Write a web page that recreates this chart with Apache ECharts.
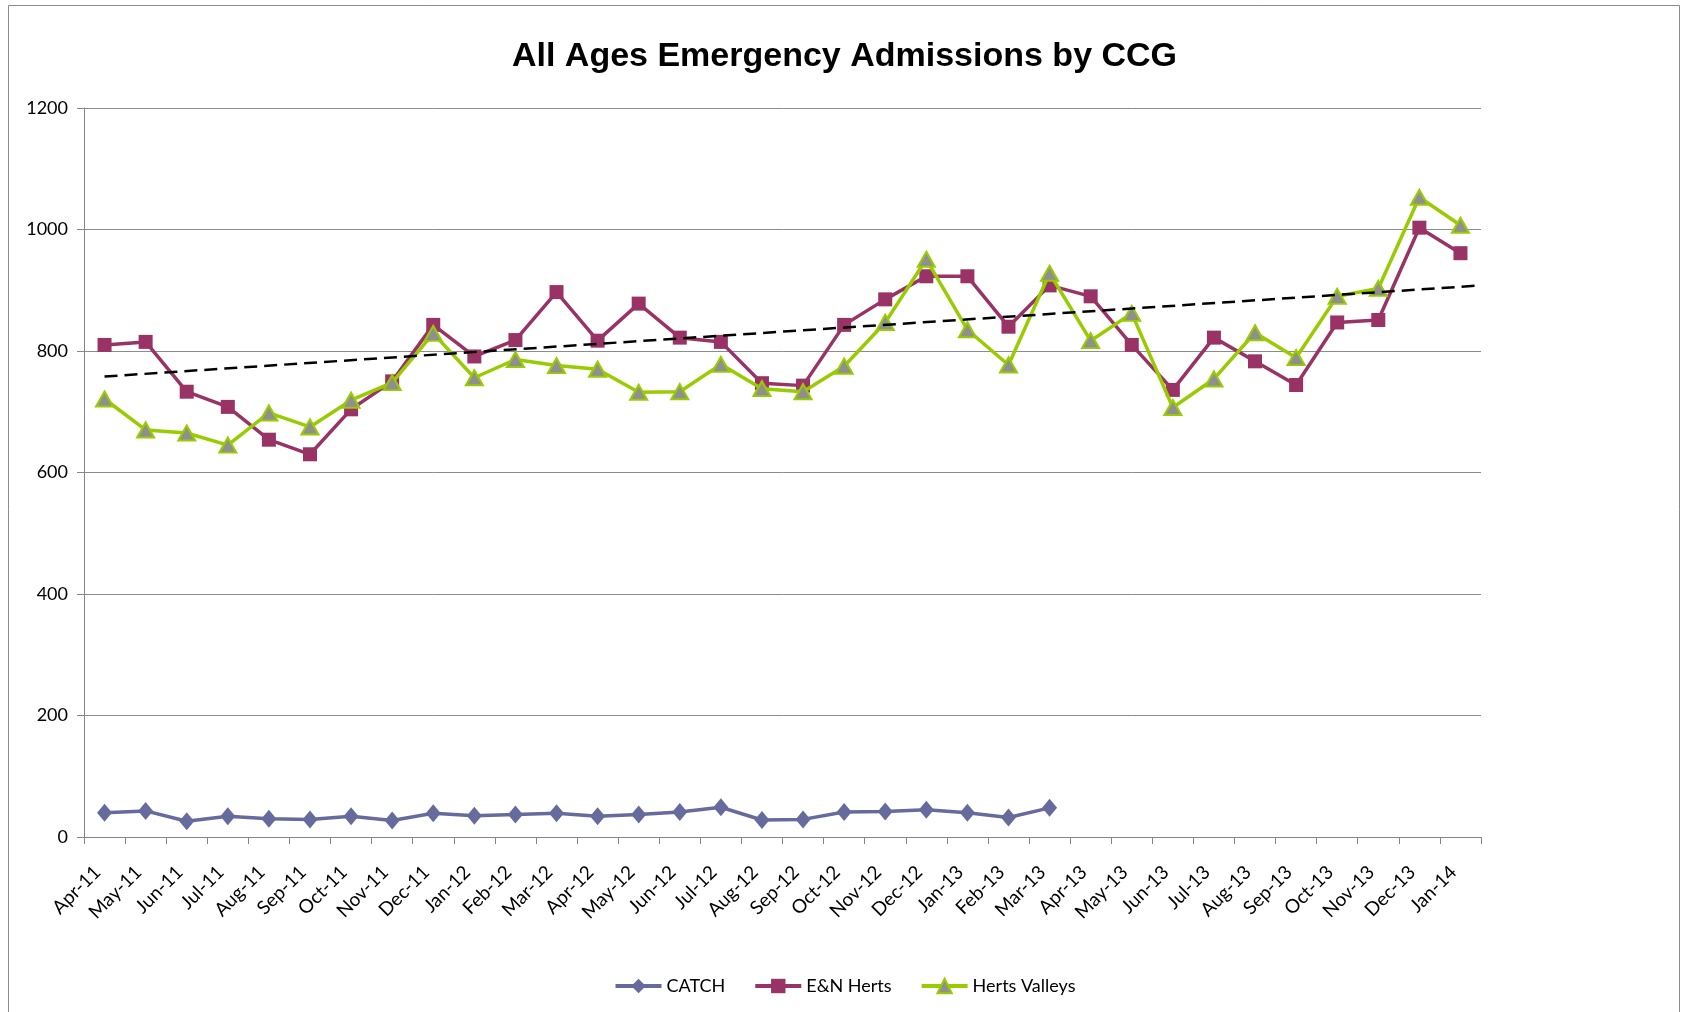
<!DOCTYPE html>
<html>
<head>
<meta charset="utf-8">
<script src="https://cdn.jsdelivr.net/npm/echarts@6/dist/echarts.min.js"></script>
<style>
html,body{margin:0;padding:0;background:#fff;}
#chart{width:1689px;height:1012px;}
</style>
</head>
<body>
<div id="chart"></div>
<script>
const categories = ['Apr-11','May-11','Jun-11','Jul-11','Aug-11','Sep-11','Oct-11','Nov-11','Dec-11','Jan-12','Feb-12','Mar-12','Apr-12','May-12','Jun-12','Jul-12','Aug-12','Sep-12','Oct-12','Nov-12','Dec-12','Jan-13','Feb-13','Mar-13','Apr-13','May-13','Jun-13','Jul-13','Aug-13','Sep-13','Oct-13','Nov-13','Dec-13','Jan-14'];
const catch_ = [40,43,26,34,30,29,34,27,39,35,37,39,34,37,41,49,28,29,41,42,45,40,32,48];
const enHerts = [810,815,733,708,654,630,704,750,843,791,818,897,817,878,822,815,747,743,843,885,923,923,840,908,890,810,736,822,783,744,847,851,1003,961];
const hertsValleys = [721,670,665,645,698,675,719,748,829,756,786,776,770,732,733,778,738,733,775,847,951,835,777,928,817,862,707,754,830,789,890,903,1053,1007];
// linear trend line: [category position, value]
const trendX = [0, 33.5];
const trendY = [758, 908];
const yTicks = [0, 200, 400, 600, 800, 1000, 1200];

const font = 'Lato, "Open Sans", sans-serif';
const chart = echarts.init(document.getElementById('chart'), null, {renderer:'canvas'});
chart.setOption({
  backgroundColor:'#fff',
  animation:false,
  title:{
    text:'All Ages Emergency Admissions by CCG',
    left:'center', top:35,
    textStyle:{fontFamily:'"Liberation Sans", Arial, sans-serif', fontWeight:'bold', fontSize:34, color:'#000'}
  },
  graphic:[{type:'rect', shape:{x:8.5, y:5.5, width:1671, height:1030}, style:{fill:'none', stroke:'#8c8c8c', lineWidth:1}, silent:true, z:-1}],
  legend:{
    bottom:12, left:'center',
    data:['CATCH','E&N Herts','Herts Valleys'],
    itemWidth:46, itemHeight:18, itemGap:28,
    lineStyle:{width:4},
    textStyle:{fontFamily:font, fontSize:18, color:'#000'}
  },
  grid:{left:84, top:108, right:208, bottom:175, containLabel:false},
  xAxis:[{
    type:'category', data:categories, boundaryGap:true,
    axisLine:{lineStyle:{color:'#868686', width:1}},
    axisTick:{show:true, alignWithLabel:false, length:7, lineStyle:{color:'#868686'}},
    axisLabel:{rotate:45, interval:0, fontFamily:font, fontSize:19, color:'#000', margin:25, padding:[0,10,0,0]}
  },{
    type:'value', min:-0.5, max:33.5, show:false
  }],
  yAxis:{
    type:'value', min:yTicks[0], max:yTicks[yTicks.length-1], interval:200,
    axisLine:{show:true, onZero:false, lineStyle:{color:'#868686'}},
    axisTick:{show:true, length:7, lineStyle:{color:'#868686'}},
    splitLine:{lineStyle:{color:'#8c8c8c', width:1}},
    axisLabel:{fontFamily:font, fontSize:18, color:'#000', margin:16, formatter:(v)=>String(v)}
  },
  series:[
    {name:'CATCH', type:'line', data:catch_, symbol:'diamond', symbolSize:[15,18],
     lineStyle:{color:'#676a9c', width:3.5}, itemStyle:{color:'#676a9c'}, z:3},
    {name:'E&N Herts', type:'line', data:enHerts, symbol:'rect', symbolSize:14,
     lineStyle:{color:'#993366', width:3.5}, itemStyle:{color:'#993366'}, z:3},
    {name:'Herts Valleys', type:'line', data:hertsValleys, symbol:'triangle', symbolSize:[17,15],
     lineStyle:{color:'#99cc00', width:3.5}, itemStyle:{color:'#8f8f8f', borderColor:'#99cc00', borderWidth:2}, z:4},
    {name:'Trend', type:'line', xAxisIndex:1, data:trendX.map((x,i)=>[x,trendY[i]]), symbol:'none',
     lineStyle:{color:'#000', width:2.5, type:[13,7]}, z:5, silent:true}
  ]
});
</script>
</body>
</html>
